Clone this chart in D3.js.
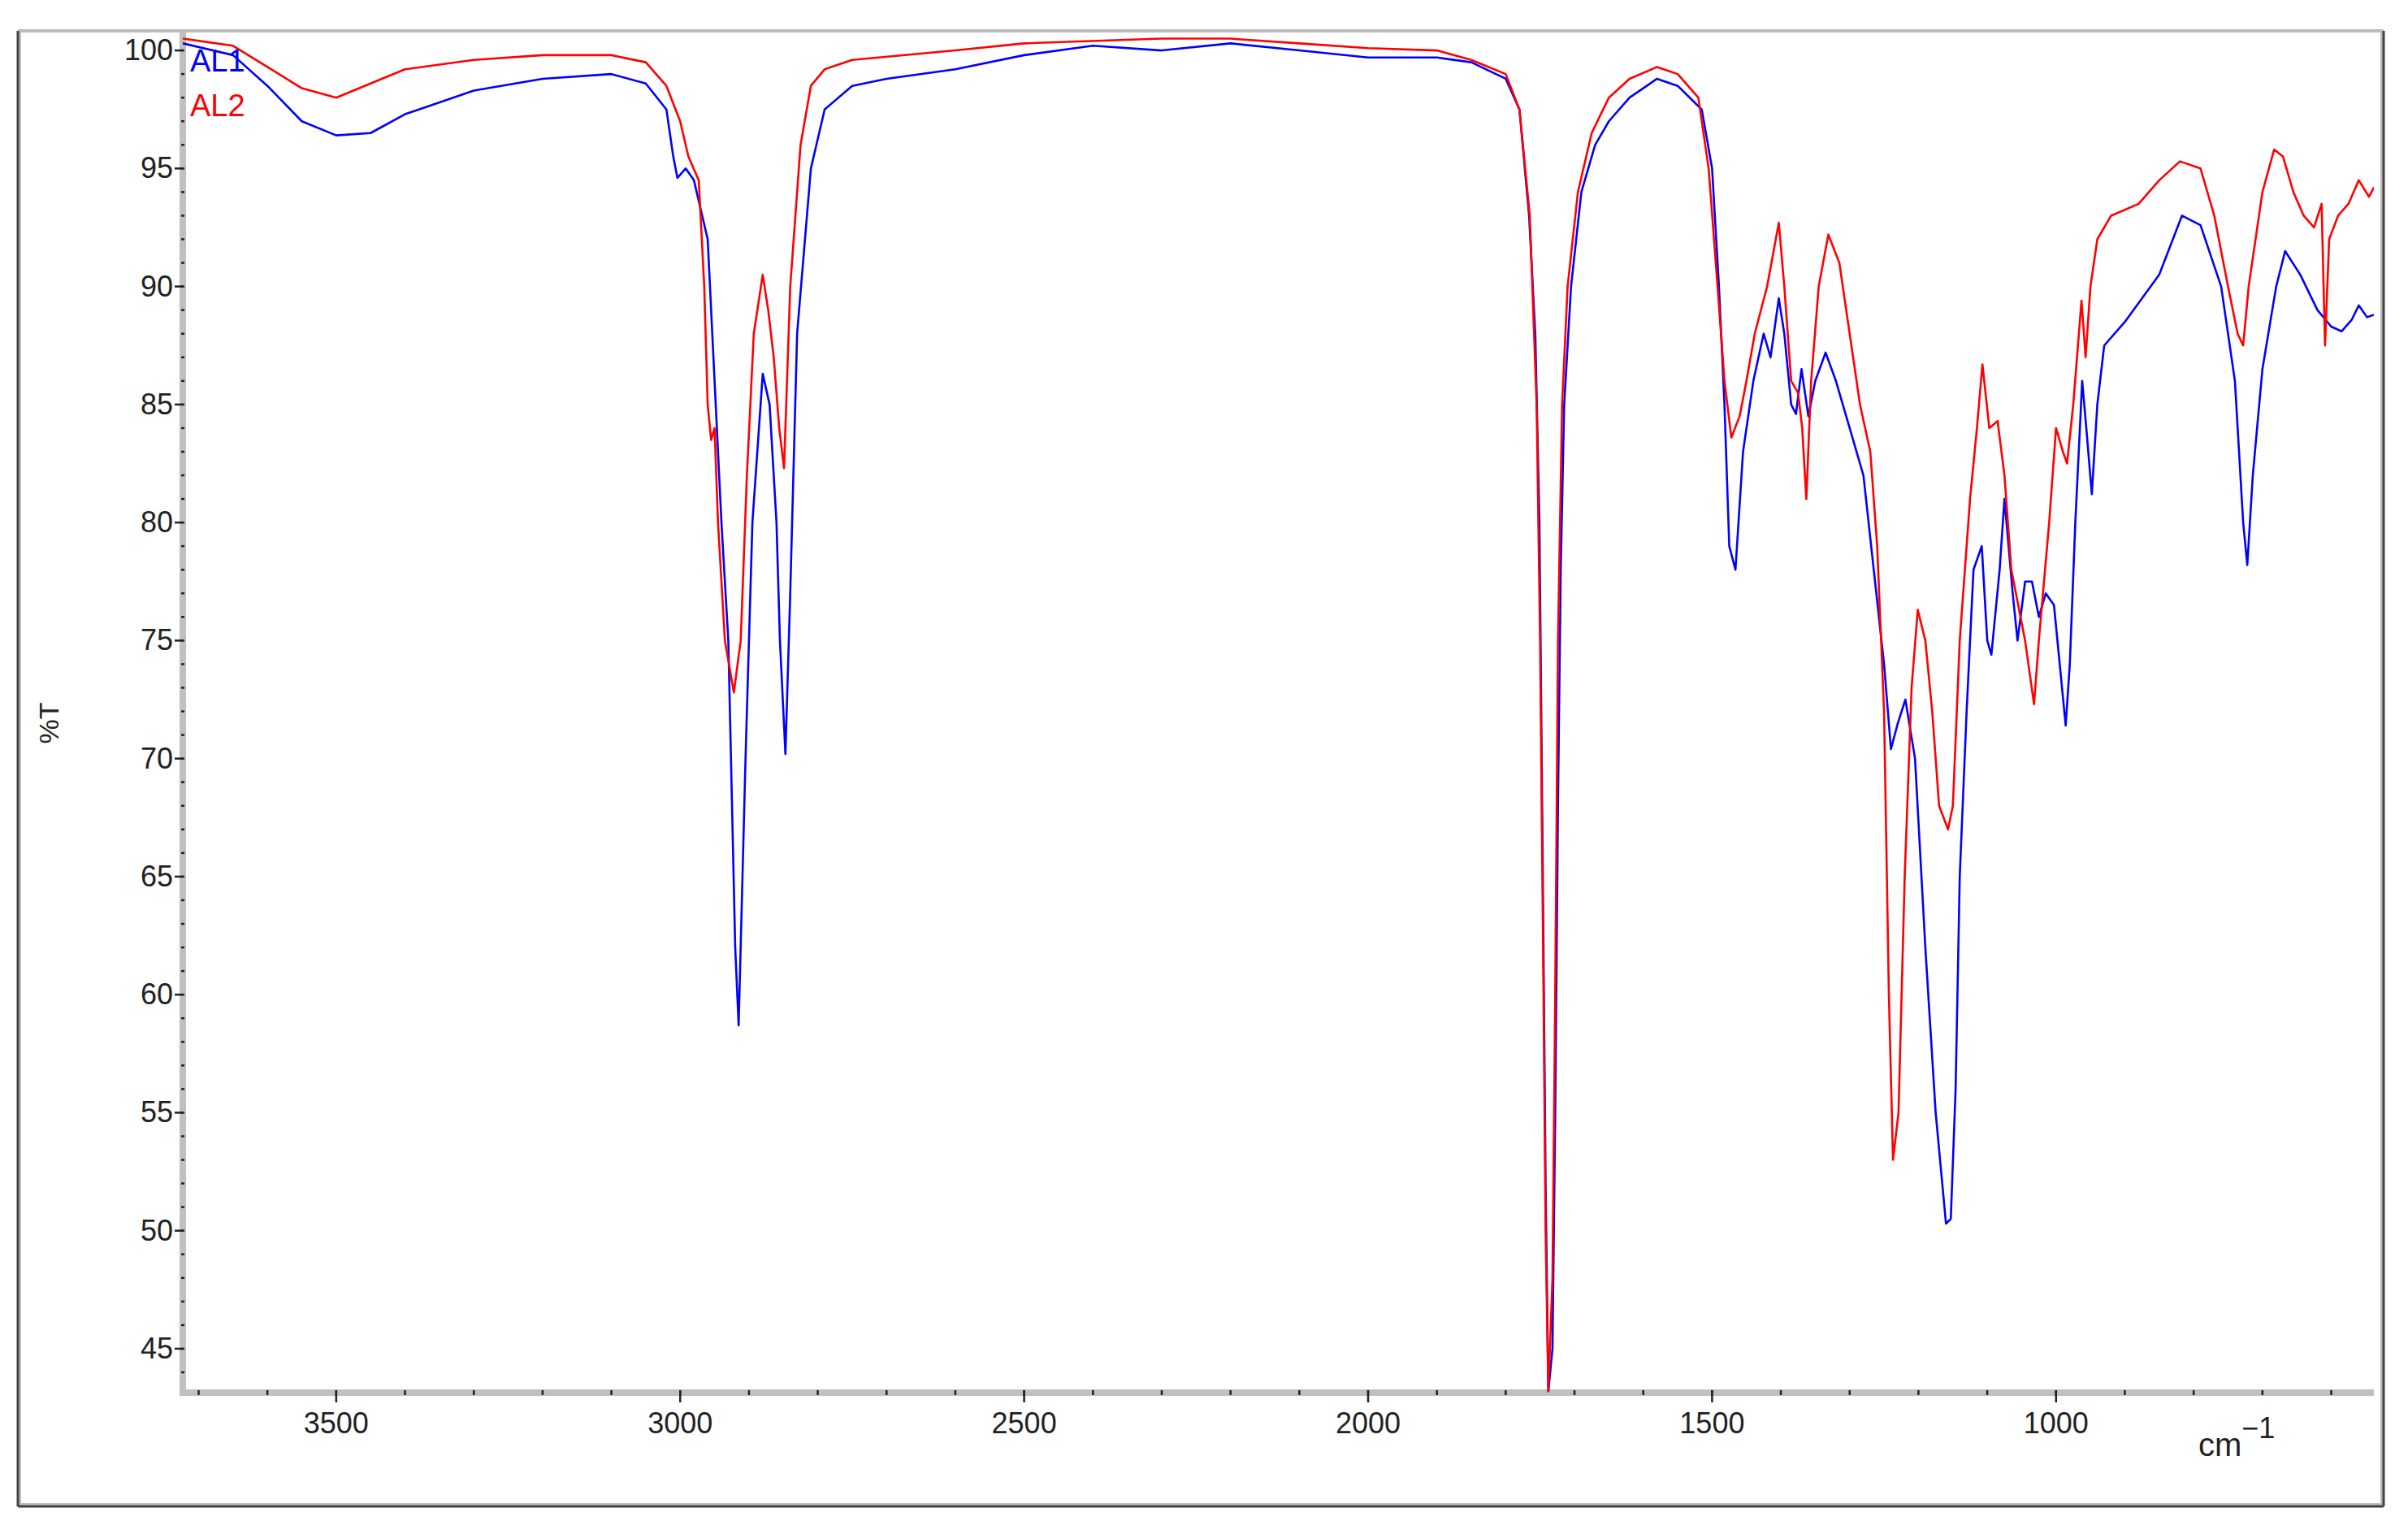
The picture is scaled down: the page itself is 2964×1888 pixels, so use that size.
<!DOCTYPE html>
<html><head><meta charset="utf-8">
<script src="https://cdn.jsdelivr.net/npm/d3@7"></script>
<style>body{margin:0;background:#fff}</style></head>
<body><svg id="c" width="2964" height="1888"></svg>
<script>
const seriesNames = ["AL1","AL2"];
const seriesColors = ["#0000ff","#ff0000"];
const xTicks = [3500,3000,2500,2000,1500,1000];
const yTicks = [45,50,55,60,65,70,75,80,85,90,95,100];
const al1 = [[3723,100.3],[3650,99.8],[3600,98.5],[3550,97],[3500,96.4],[3450,96.5],[3400,97.3],[3300,98.3],[3200,98.8],[3100,99],[3050,98.6],[3020,97.5],[3010,95.5],[3004,94.6],[2992,95.0],[2980,94.5],[2960,92],[2950,86],[2940,80],[2930,75],[2920,62],[2915,58.7],[2905,70],[2895,80],[2880,86.3],[2870,85],[2860,80],[2855,75],[2847,70.2],[2840,77],[2830,88],[2810,95],[2790,97.5],[2750,98.5],[2700,98.8],[2600,99.2],[2500,99.8],[2400,100.2],[2300,100],[2200,100.3],[2100,100],[2000,99.7],[1900,99.7],[1850,99.5],[1800,98.8],[1780,97.5],[1766,93],[1757,88],[1751,80],[1746,65],[1742,52],[1738,43.2],[1732,45],[1728,55],[1724,68],[1720,78],[1715,85],[1705,90],[1690,94],[1670,96],[1650,97],[1620,98],[1580,98.8],[1550,98.5],[1515,97.5],[1500,95],[1490,90],[1482,85],[1475,79],[1466,78],[1455,83],[1440,86],[1425,88],[1415,87],[1403,89.5],[1395,88],[1385,85],[1378,84.6],[1370,86.5],[1360,84.5],[1350,86],[1335,87.2],[1320,86],[1300,84],[1280,82],[1265,78],[1250,74],[1240,70.4],[1230,71.5],[1219,72.5],[1205,70],[1190,62],[1175,55],[1160,50.3],[1153,50.5],[1146,56],[1140,65],[1130,72],[1120,78],[1108,79],[1100,75],[1094,74.4],[1082,78],[1075,81],[1063,77],[1056,75],[1045,77.5],[1035,77.5],[1025,76],[1015,77],[1003,76.5],[986,71.4],[980,74],[972,80],[962,86],[956,84],[948,81.2],[940,85],[930,87.5],[900,88.5],[850,90.5],[817,93],[790,92.6],[760,90],[740,86],[728,80],[722,78.2],[714,82],[700,86.5],[680,90],[667,91.5],[645,90.5],[620,89],[600,88.3],[585,88.1],[570,88.6],[560,89.2],[548,88.7],[538,88.8]];
const al2 = [[3723,100.5],[3650,100.2],[3600,99.3],[3550,98.4],[3500,98.0],[3450,98.6],[3400,99.2],[3300,99.6],[3200,99.8],[3100,99.8],[3050,99.5],[3020,98.5],[3000,97],[2988,95.5],[2973,94.5],[2965,90],[2960,85],[2955,83.5],[2950,84],[2945,80],[2935,75],[2922,72.8],[2912,75],[2903,82],[2893,88],[2880,90.5],[2872,89],[2864,87],[2856,84],[2849,82.3],[2840,90],[2825,96],[2810,98.5],[2790,99.2],[2750,99.6],[2600,100],[2500,100.3],[2300,100.5],[2200,100.5],[2100,100.3],[2000,100.1],[1900,100],[1850,99.6],[1800,99],[1780,97.5],[1765,93],[1755,85],[1750,75],[1745,60],[1742,50],[1738,43.2],[1732,48],[1728,60],[1724,75],[1718,85],[1710,90],[1695,94],[1675,96.5],[1650,98],[1620,98.8],[1580,99.3],[1550,99],[1520,98],[1505,95],[1492,90],[1482,86],[1472,83.6],[1460,84.5],[1450,86],[1438,88],[1420,90],[1403,92.7],[1395,90],[1385,86],[1375,85.5],[1369,84],[1363,81],[1356,86],[1345,90],[1331,92.2],[1315,91],[1300,88],[1285,85],[1270,83],[1260,79],[1250,72],[1243,60],[1237,53],[1229,55],[1220,65],[1210,73],[1201,76.3],[1190,75],[1180,72],[1170,68],[1157,67],[1150,68],[1140,75],[1125,81],[1115,84],[1107,86.7],[1097,84],[1085,84.3],[1075,82],[1065,78],[1055,76.5],[1045,75],[1032,72.3],[1025,75],[1010,80],[1000,84],[990,83],[984,82.5],[975,85],[963,89.4],[957,87],[950,90],[940,92],[920,93],[880,93.5],[850,94.5],[820,95.3],[790,95],[770,93],[750,90],[736,88],[728,87.5],[720,90],[700,94],[683,95.8],[670,95.5],[655,94],[640,93],[625,92.5],[614,93.5],[609,87.5],[603,92],[590,93],[575,93.5],[560,94.5],[545,93.8],[538,94.2]];
const series = [al1, al2];

const svg = d3.select("#c");
const L=225, R=2922, T=40, B=1714;
const x = d3.scaleLinear().domain([3723,538]).range([L,R]);
const y = d3.scaleLinear().domain([43.14,100.76]).range([B,T]);
const font = "'Liberation Sans Narrow','Liberation Sans',Arial,sans-serif";

// frame
svg.append("rect").attr("x",24).attr("y",38).attr("width",2908).attr("height",1814).attr("fill","none").attr("stroke","#bbb").attr("stroke-width",4);
svg.append("line").attr("x1",22).attr("x2",22).attr("y1",38).attr("y2",1854).attr("stroke","#444").attr("stroke-width",3);
svg.append("line").attr("x1",22).attr("x2",2934).attr("y1",1854).attr("y2",1854).attr("stroke","#444").attr("stroke-width",3);
svg.append("line").attr("x1",2934).attr("x2",2934).attr("y1",38).attr("y2",1854).attr("stroke","#444").attr("stroke-width",3);

svg.append("defs").append("clipPath").attr("id","clip").append("rect").attr("x",L).attr("y",T).attr("width",R-L).attr("height",B-T);

// axes
svg.append("line").attr("x1",L).attr("x2",L).attr("y1",T).attr("y2",B).attr("stroke","#c0c0c0").attr("stroke-width",8);
svg.append("line").attr("x1",L-4).attr("x2",R).attr("y1",B).attr("y2",B).attr("stroke","#c0c0c0").attr("stroke-width",8);

const yMinor = d3.range(44,101,1);
svg.selectAll(".ym").data(yMinor).join("line").attr("x1",L-2).attr("x2",L+2).attr("y1",d=>y(d)).attr("y2",d=>y(d)).attr("stroke","#222").attr("stroke-width",2.5);
svg.selectAll(".yM").data(yTicks).join("line").attr("x1",L-10).attr("x2",L).attr("y1",d=>y(d)).attr("y2",d=>y(d)).attr("stroke","#222").attr("stroke-width",2.5);
svg.selectAll(".yl").data(yTicks).join("text").attr("x",L-12).attr("y",d=>y(d)+(d===100?12:12)).attr("text-anchor","end").attr("font-family",font).attr("font-size",36).attr("fill","#222").text(d=>d);

const xMinor = d3.range(600,3701,100);
svg.selectAll(".xm").data(xMinor).join("line").attr("x1",d=>x(d)).attr("x2",d=>x(d)).attr("y1",B-3).attr("y2",B+3).attr("stroke","#222").attr("stroke-width",2.5);
svg.selectAll(".xM").data(xTicks).join("line").attr("x1",d=>x(d)).attr("x2",d=>x(d)).attr("y1",B-3).attr("y2",B+12).attr("stroke","#222").attr("stroke-width",2.5);
svg.selectAll(".xl").data(xTicks).join("text").attr("x",d=>x(d)).attr("y",B+50).attr("text-anchor","middle").attr("font-family",font).attr("font-size",36).attr("fill","#222").text(d=>d);

svg.append("text").attr("transform",`translate(72,${y(71.5)}) rotate(-90)`).attr("text-anchor","middle").attr("font-family","'Liberation Sans',Arial,sans-serif").attr("font-size",34).attr("fill","#222").text("%T");
const cm = svg.append("text").attr("x",2706).attr("y",1792).attr("font-family","'Liberation Sans',Arial,sans-serif").attr("font-size",40).attr("fill","#222");
cm.append("tspan").text("cm");
cm.append("tspan").attr("dy",-22).attr("font-size",36).text("\u22121");

// lines
const line = d3.line().x(d=>x(d[0])).y(d=>y(d[1]));
const g = svg.append("g").attr("clip-path","url(#clip)");
series.forEach((s,i)=>{
  g.append("path").datum(s).attr("d",line).attr("fill","none").attr("stroke",seriesColors[i]).attr("stroke-width",2.6).attr("stroke-linejoin","round");
});
// legend
seriesNames.forEach((n,i)=>{
  svg.append("text").attr("x",234).attr("y",88+i*55).attr("font-family","'Liberation Sans',Arial,sans-serif").attr("font-size",38).attr("fill",seriesColors[i]).text(n);
});
</script></body></html>
